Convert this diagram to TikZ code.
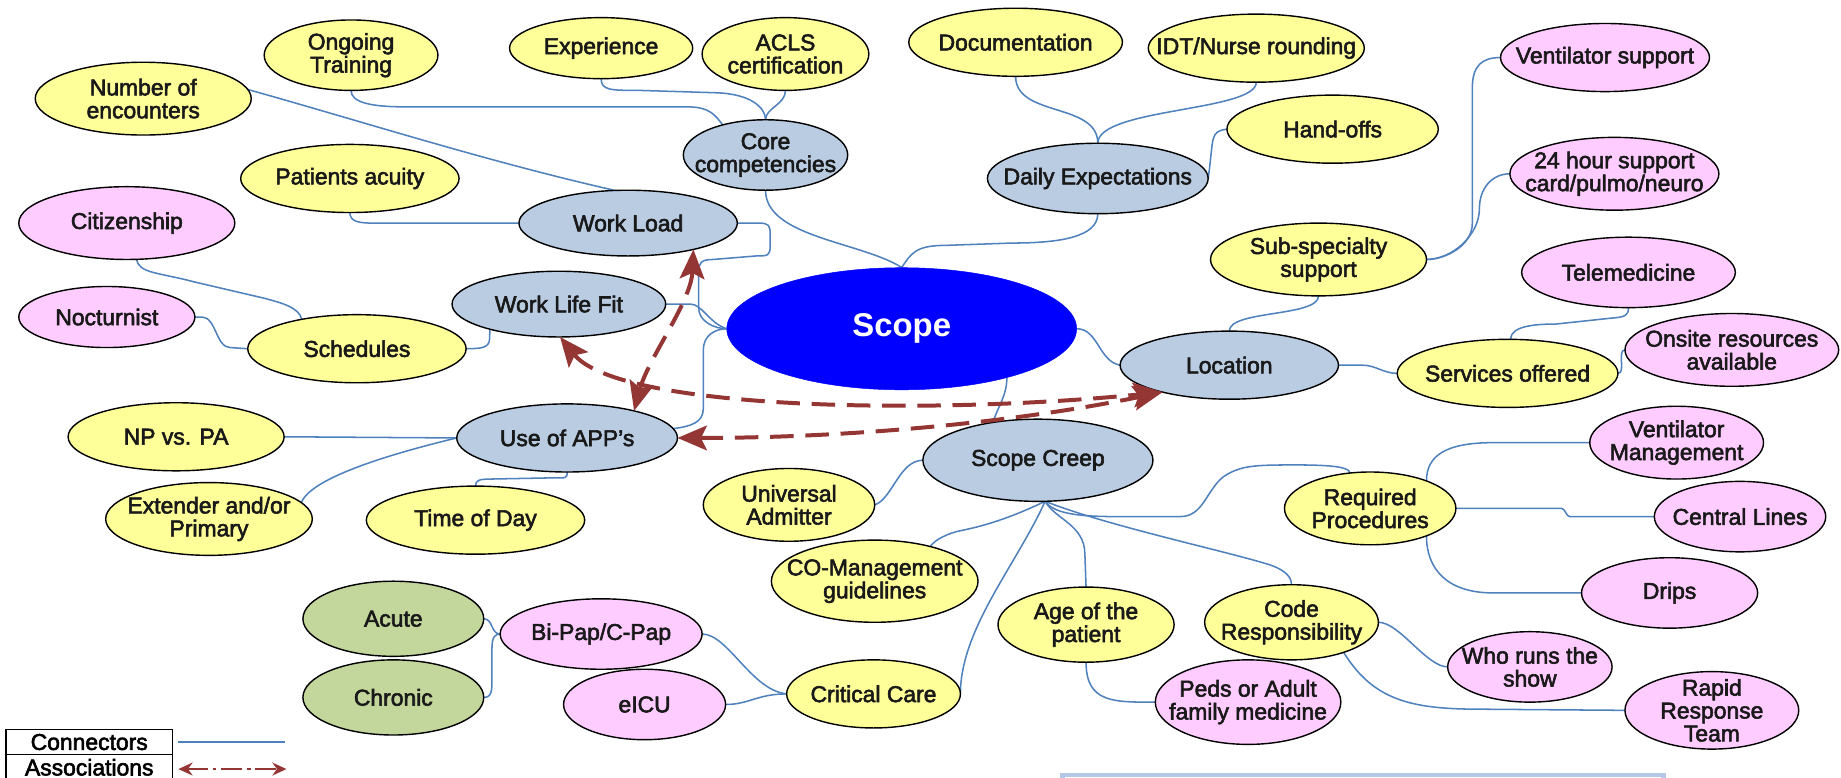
\documentclass[tikz,border=0pt]{standalone}
\usepackage{fontspec}
\setmainfont{Liberation Sans}
\newfontfamily\labfam{Liberation Sans}[FakeBold=2.5]
\usetikzlibrary{shapes.geometric,arrows.meta}
\pgfdeclarelayer{background}
\pgfsetlayers{background,main}

\definecolor{cyel}{HTML}{FFFF99}
\definecolor{cpink}{HTML}{FFCCFF}
\definecolor{cgrey}{HTML}{BACCE2}
\definecolor{cgreen}{HTML}{C3D69B}
\definecolor{cblue}{HTML}{0000FF}
\definecolor{cline}{HTML}{4F81BD}
\definecolor{cassoc}{HTML}{943634}
\definecolor{cbox}{HTML}{B4C7E7}

\newcommand{\labfont}{\labfam\fontsize{19.5}{19.5}\selectfont}
\newcommand{\scopefont}{\fontsize{28}{30}\selectfont\bfseries}

\begin{document}
\begin{tikzpicture}[x=1pt, y=-1pt,
  bub/.style={ellipse, draw=black, line width=1.2pt, inner sep=0pt, outer sep=0pt},
  sz/.style 2 args={minimum width=#1pt, minimum height=#2pt},
  yel/.style={bub, fill=cyel},
  pnk/.style={bub, fill=cpink},
  gry/.style={bub, fill=cgrey},
  grn/.style={bub, fill=cgreen},
  txt/.style={font=\labfont, align=center, inner sep=0pt, text=black!90},
  scopetxt/.style={font=\scopefont, inner sep=0pt, text=white},
  conn/.style={draw=cline, line width=1.3pt},
  assoc/.style={draw=cassoc, line width=3.4pt, dash pattern=on 20pt off 10pt,
    arrows={Stealth[length=25pt,width=21pt,inset=5pt]-Stealth[length=25pt,width=21pt,inset=5pt]}},
  legassoc/.style={draw=cassoc, line width=2.2pt, dash pattern=on 18pt off 4pt on 3pt off 4pt,
    arrows={Stealth[length=12pt,width=11pt]-Stealth[length=12pt,width=11pt]}},
  legcell/.style={rectangle, draw=black, line width=1.2pt, inner sep=0pt,
    minimum width=142pt, minimum height=21.5pt, font=\labfont},
  boxframe/.style={rectangle, draw=cbox, line width=4pt, inner sep=0pt}
]
\useasboundingbox (0,0) rectangle (1568,662);
\clip (0,0) rectangle (1568,662);
\begin{pgfonlayer}{background}
  \fill[white] (0,0) rectangle (1568,662);
\end{pgfonlayer}

% ---------- central topic ----------
\node[ellipse, fill=cblue, draw=cblue, sz={298}{104}, inner sep=0pt,
      label={[scopetxt]center:Scope}] (scope) at (768,280) {};

% ---------- main branches ----------
\node[gry, sz={140}{60}, label={[txt]center:Core\\competencies}] (core) at (652,132) {};
\node[gry, sz={188}{60}, label={[txt]center:Daily Expectations}] (daily) at (935,152) {};
\node[gry, sz={186}{56}, label={[txt]center:Work Load}] (wl) at (535,190) {};
\node[gry, sz={182}{56}, label={[txt]center:Work Life Fit}] (wlf) at (476,259) {};
\node[gry, sz={186}{58}, label={[txt]center:Location}] (loc) at (1047,311) {};
\node[gry, sz={188}{58}, label={[txt]center:Use of APP’s}] (app) at (483,373) {};
\node[gry, sz={196}{70}, label={[txt]center:Scope Creep}] (sc) at (884,392) {};

% ---------- yellow sub-topics ----------
\node[yel, sz={184}{62}, label={[txt]center:Number of\\encounters}] (noe) at (122,84) {};
\node[yel, sz={148}{60}, label={[txt]center:Ongoing\\Training}] (ong) at (299,47) {};
\node[yel, sz={156}{52}, label={[txt]center:Experience}] (exp) at (512,41) {};
\node[yel, sz={142}{62}, label={[txt]center:ACLS\\certification}] (acls) at (669,46) {};
\node[yel, sz={182}{58}, label={[txt]center:Documentation}] (doc) at (865,36) {};
\node[yel, sz={184}{58}, label={[txt]center:IDT/Nurse rounding}] (idt) at (1070,41) {};
\node[yel, sz={180}{58}, label={[txt]center:Hand-offs}] (hand) at (1135,110) {};
\node[yel, sz={186}{58}, label={[txt]center:Patients acuity}] (pac) at (298,152) {};
\node[yel, sz={184}{62}, label={[txt]center:Sub-specialty\\support}] (sub) at (1123,221) {};
\node[yel, sz={186}{58}, label={[txt]center:Schedules}] (sched) at (304,297) {};
\node[yel, sz={188}{58}, label={[txt]center:Services offered}] (serv) at (1284,318) {};
\node[yel, sz={184}{58}, label={[txt]center:NP vs. PA}] (nppa) at (150,372) {};
\node[yel, sz={176}{62}, label={[txt]center:Extender and/or\\Primary}] (ext) at (178,442) {};
\node[yel, sz={186}{58}, label={[txt]center:Time of Day}] (tod) at (405,443) {};
\node[yel, sz={146}{62}, label={[txt]center:Universal\\Admitter}] (ua) at (672,430) {};
\node[yel, sz={146}{62}, label={[txt]center:Required\\Procedures}] (rp) at (1167,433) {};
\node[yel, sz={176}{70}, label={[txt]center:CO-Management\\guidelines}] (com) at (745,495) {};
\node[yel, sz={150}{64}, label={[txt]center:Age of the\\patient}] (age) at (925,532) {};
\node[yel, sz={148}{64}, label={[txt]center:Code\\Responsibility}] (code) at (1100,530) {};
\node[yel, sz={148}{58}, label={[txt]center:Critical Care}] (cc) at (744,591) {};

% ---------- pink details ----------
\node[pnk, sz={178}{58}, label={[txt]center:Ventilator support}] (vent) at (1367,49) {};
\node[pnk, sz={178}{62}, label={[txt]center:24 hour support\\card/pulmo/neuro}] (h24) at (1375,148) {};
\node[pnk, sz={184}{62}, label={[txt]center:Citizenship}] (cit) at (108,190) {};
\node[pnk, sz={182}{60}, label={[txt]center:Telemedicine}] (tele) at (1387,232) {};
\node[pnk, sz={150}{52}, label={[txt]center:Nocturnist}] (noct) at (91,270) {};
\node[pnk, sz={182}{62}, label={[txt]center:Onsite resources\\available}] (onsite) at (1475,298) {};
\node[pnk, sz={148}{62}, label={[txt]center:Ventilator\\Management}] (vm) at (1428,377) {};
\node[pnk, sz={146}{60}, label={[txt]center:Central Lines}] (cl) at (1482,440) {};
\node[pnk, sz={150}{60}, label={[txt]center:Drips}] (drips) at (1422,505) {};
\node[pnk, sz={172}{60}, label={[txt]center:Bi-Pap/C-Pap}] (bipap) at (512,540) {};
\node[pnk, sz={140}{60}, label={[txt]center:Who runs the\\show}] (who) at (1303,568) {};
\node[pnk, sz={138}{60}, label={[txt]center:eICU}] (eicu) at (549,600) {};
\node[pnk, sz={158}{72}, label={[txt]center:Peds or Adult\\family medicine}] (peds) at (1063,598) {};
\node[pnk, sz={148}{66}, label={[txt]center:Rapid\\Response\\Team}] (rrt) at (1458,605) {};

% ---------- green details ----------
\node[grn, sz={154}{64}, label={[txt]center:Acute}] (acute) at (335,527) {};
\node[grn, sz={154}{64}, label={[txt]center:Chronic}] (chronic) at (335,594) {};

% ---------- connectors ----------
\begin{pgfonlayer}{background}
  \draw[conn] (noe.5) .. controls +(100,28) and +(-110,-25) .. (wl.112);
  \draw[conn] (ong.south) .. controls +(0,10) and +(-30,0) .. (345,91) -- (585,91)
              .. controls +(20,0) and +(-6,-8) .. (core.145);
  \draw[conn] (exp.south) .. controls +(0,10) and +(-25,0) .. (545,77) -- (610,79)
              .. controls +(30,1) and +(0,-10) .. (core.north);
  \draw[conn] (acls.south) .. controls +(0,12) and +(0,-10) .. (core.north);
  \draw[conn] (core.south) .. controls +(0,40) and +(-35,-22) .. (scope.north);
  \draw[conn] (daily.south) .. controls +(0,20) and +(40,0) .. (862,207) -- (805,209)
              .. controls +(-25,0) and +(8,-12) .. (scope.north);
  \draw[conn] (doc.south) .. controls +(0,35) and +(0,-35) .. (daily.north);
  \draw[conn] (idt.south) .. controls +(0,25) and +(0,-30) .. (daily.north);
  \draw[conn] (hand.west) .. controls +(-15,2) and +(5,-35) .. (daily.east);
  \draw[conn] (pac.south) .. controls +(0,8) and +(-12,0) .. (318,190) -- (wl.west);
  \draw[conn] (wl.east) -- (646,190) .. controls +(9,0) and +(0,-8) .. (656,200) -- (656,209)
              .. controls +(0,9) and +(10,0) .. (644,218) -- (607,221)
              .. controls +(-10,0) and +(0,-8) .. (595,232) -- (595,262)
              .. controls +(0,12) and +(-10,0) .. (scope.west);
  \draw[conn] (wlf.east) -- (588,259) .. controls +(10,0) and +(-15,-5) .. (scope.west);
  \draw[conn] (app.5) .. controls +(15,-2) and +(0,12) .. (599,348) -- (599,298)
              .. controls +(0,-12) and +(-10,0) .. (scope.west);
  \draw[conn] (cit.-75) .. controls +(2,12) and +(-30,-8) .. (165,240) -- (225,254)
              .. controls +(15,4) and +(-2,-10) .. (sched.152);
  \draw[conn] (noct.east) -- (172,270) .. controls +(12,0) and +(-12,0) .. (196,296) -- (sched.west);
  \draw[conn] (sched.east) .. controls +(14,0) and +(0,8) .. (417,288) -- (wlf.-160);
  \draw[conn] (nppa.east) -- (app.west);
  \draw[conn] (ext.10) .. controls +(8,-22) and +(-50,12) .. (app.west);
  \draw[conn] (tod.north) .. controls +(0,-5) and +(-10,0) .. (418,408) -- (470,407)
              .. controls +(12,0) and +(0,6) .. (app.south);
  \draw[conn] (scope.east) .. controls +(18,0) and +(-18,-3) .. (loc.west);
  \draw[conn] (loc.north) .. controls +(0,-18) and +(0,18) .. (sub.south);
  \draw[conn] (sub.east) .. controls +(15,0) and +(0,20) .. (1254,190) -- (1254,75)
              .. controls +(0,-20) and +(-15,0) .. (vent.west);
  \draw[conn] (sub.east) .. controls +(22,0) and +(0,22) .. (1260,178)
              .. controls +(0,-18) and +(-15,0) .. (h24.west);
  \draw[conn] (loc.east) -- (1160,311) .. controls +(12,0) and +(-12,0) .. (serv.west);
  \draw[conn] (serv.85) .. controls +(0,-12) and +(-15,0) .. (1325,276) -- (1372,271)
              .. controls +(12,-1) and +(0,7) .. (tele.south);
  \draw[conn] (serv.east) .. controls +(7,0) and +(-7,0) .. (onsite.west);
  \draw[conn] (scope.-25) .. controls +(0,15) and +(5,-15) .. (sc.140);
  \draw[conn] (sc.west) .. controls +(-20,0) and +(15,-5) .. (ua.east);
  \draw[conn] (sc.-80) .. controls +(8,12) and +(-30,0) .. (955,440) -- (1005,440)
              .. controls +(20,0) and +(-15,12) .. (1042,406)
              .. controls +(15,-10) and +(-35,0) .. (1105,396)
              .. controls +(30,0) and +(0,-5) .. (rp.120);
  \draw[conn] (sc.-80) .. controls +(50,20) and +(-40,-12) .. (1078,480)
              .. controls +(14,4) and +(0,-8) .. (code.north);
  \draw[conn] (sc.-80) .. controls +(8,15) and +(0,-25) .. (924,472) -- (age.north);
  \draw[conn] (sc.-80) .. controls +(-25,55) and +(0,-55) .. (cc.east);
  \draw[conn] (sc.-80) .. controls +(-25,12) and +(25,-5) .. (818,452)
              .. controls +(-10,2) and +(4,-6) .. (com.32);
  \draw[conn] (rp.26) .. controls +(0,-22) and +(-40,0) .. (1272,377) -- (vm.west);
  \draw[conn] (rp.east) -- (1330,433) .. controls +(3,0) and +(-3,0) .. (1337,440) -- (cl.west);
  \draw[conn] (rp.-26) .. controls +(0,28) and +(-40,0) .. (1272,505) -- (drips.west);
  \draw[conn] (code.east) .. controls +(18,0) and +(-18,0) .. (who.west);
  \draw[conn] (code.-30) .. controls +(25,40) and +(-60,0) .. (1260,604) -- (rrt.west);
  \draw[conn] (age.south) .. controls +(0,35) and +(-35,0) .. (peds.west);
  \draw[conn] (acute.east) .. controls +(8,0) and +(-8,0) .. (bipap.west);
  \draw[conn] (chronic.east) .. controls +(7,0) and +(0,10) .. (419,578) -- (419,552)
              .. controls +(0,-10) and +(-4,0) .. (bipap.west);
  \draw[conn] (bipap.east) .. controls +(22,0) and +(-30,-3) .. (cc.west);
  \draw[conn] (eicu.east) .. controls +(20,0) and +(-25,0) .. (cc.west);
\end{pgfonlayer}

% ---------- associations ----------
\draw[assoc] (wl.-22) .. controls +(-2,45) and +(12,-45) .. (app.22);
\draw[assoc] (wlf.-88) .. controls +(50,62) and +(-200,20) .. (loc.202);
\draw[assoc] (app.east) .. controls +(150,0) and +(-120,25) .. (loc.202);

% ---------- legend ----------
\node[legcell] (lg1) at (76,632) {Connectors};
\node[legcell] (lg2) at (76,653.5) {Associations};
\coordinate (ls1) at (152,632);
\coordinate (le1) at (243,632);
\draw[conn] (ls1) -- (le1);
\coordinate (ls2) at (152,655);
\coordinate (le2) at (244,655);
\draw[legassoc] (ls2) -- (le2);

% ---------- frame at the lower edge ----------
\node[boxframe, minimum width=512pt, minimum height=60pt, anchor=north west] (frame) at (903,658) {};
\end{tikzpicture}
\end{document}
